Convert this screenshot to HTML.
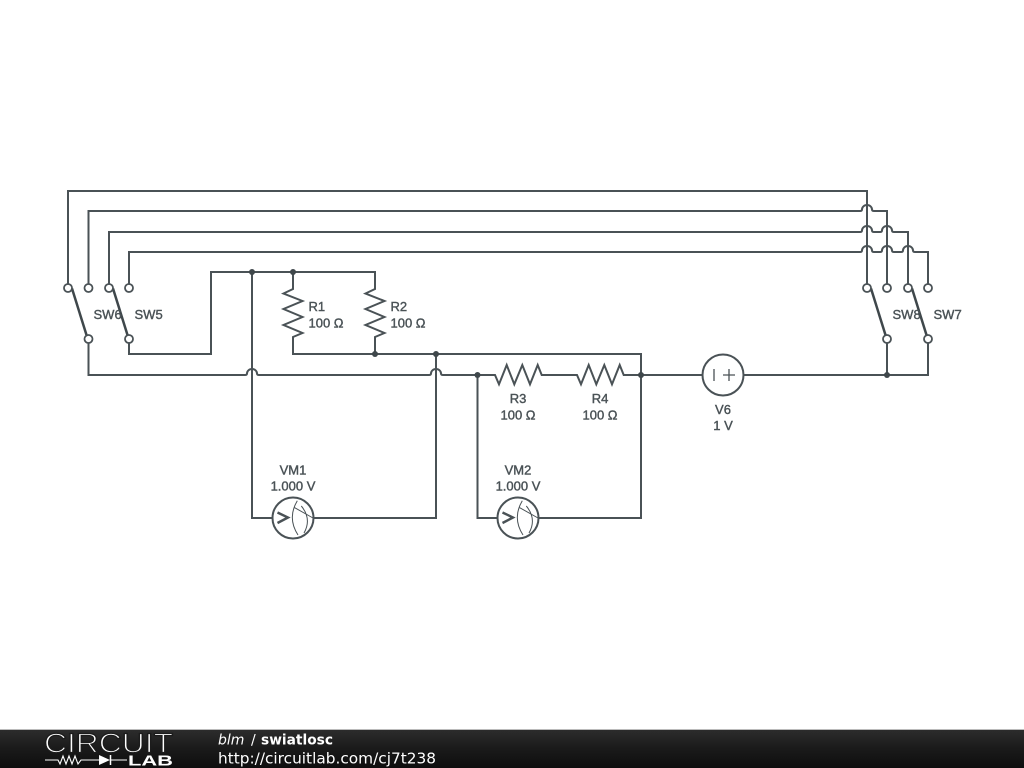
<!DOCTYPE html>
<html>
<head>
<meta charset="utf-8">
<style>
html,body{margin:0;padding:0;background:#fff;}
svg{display:block;}
.l{font-family:"Liberation Sans",sans-serif;font-size:13px;fill:#4a5256;stroke:#4a5256;stroke-width:.4px;text-anchor:middle;}
.s{text-anchor:start;}
</style>
</head>
<body>
<svg width="1024" height="768" viewBox="0 0 1024 768" xmlns="http://www.w3.org/2000/svg">
<rect width="1024" height="768" fill="#fff"/>
<defs>
<linearGradient id="g" x1="0" y1="0" x2="0" y2="1">
<stop offset="0" stop-color="#2c2c2c"/>
<stop offset=".5" stop-color="#1a1a1a"/>
<stop offset="1" stop-color="#0e0e0e"/>
</linearGradient>
</defs>
<g fill="none" stroke="#4a5256" stroke-width="2">
<!-- top bus wires -->
<path d="M68 284V191H867V284"/>
<path d="M88.500 284V211H860Q862 211 862 209.500A5 4.500 0 0 1 872 209.500Q872 211 874 211H887V284"/>
<path d="M109 284V232H860Q862 232 862 230.500A5 4.500 0 0 1 872 230.500Q872 232 874 232H880Q882 232 882 230.500A5 4.500 0 0 1 892 230.500Q892 232 894 232H908V284"/>
<path d="M129 284V252H860Q862 252 862 250.500A5 4.500 0 0 1 872 250.500Q872 252 874 252H880Q882 252 882 250.500A5 4.500 0 0 1 892 250.500Q892 252 894 252H901Q903 252 903 250.500A5 4.500 0 0 1 913 250.500Q913 252 915 252H928V284"/>
<!-- main horizontal -->
<path d="M88.500 343V375H245Q247 375 247 373.500A5 4.500 0 0 1 257 373.500Q257 375 259 375H429Q431 375 431 373.500A5 4.500 0 0 1 441 373.500Q441 375 443 375H495L499 384.300L506.700 365L514.300 384.300L522.300 365L530 384.300L537.700 365L541.700 375H577L581 384.300L588.700 365L596.300 384.300L604.300 365L612 384.300L619.700 365L623.700 375H702"/>
<path d="M744 375H928V343"/>
<path d="M887 343V375"/>
<!-- SW5 to R top -->
<path d="M129 343V354H211V272H375V289L365.500 293.500L384.500 301L365.500 309L384.500 317L365.500 325L384.500 333L375 337V354"/>
<!-- R1 -->
<path d="M293 272V289L283.500 293.500L302.500 301L283.500 309L302.500 317L283.500 325L302.500 333L293 337V354H641V518H539"/>
<!-- VM wires -->
<path d="M252 272V518H272"/>
<path d="M314 518H436V354"/>
<path d="M477.500 375V518H497"/>
<!-- switches -->
<path d="M72 288.500L86.500 335" stroke-width="2.500" stroke="#3f474b"/>
<path d="M113 288.500L127.500 335" stroke-width="2.500" stroke="#3f474b"/>
<path d="M871 288.500L885.500 335" stroke-width="2.500" stroke="#3f474b"/>
<path d="M912 288.500L926.500 335" stroke-width="2.500" stroke="#3f474b"/>
<g fill="#fff" stroke-width="1.800">
<circle cx="68" cy="288" r="4"/><circle cx="88.500" cy="288" r="4"/><circle cx="109" cy="288" r="4"/><circle cx="129" cy="288" r="4"/>
<circle cx="88.500" cy="339" r="4"/><circle cx="129" cy="339" r="4"/>
<circle cx="867" cy="288" r="4"/><circle cx="887" cy="288" r="4"/><circle cx="908" cy="288" r="4"/><circle cx="928" cy="288" r="4"/>
<circle cx="887" cy="339" r="4"/><circle cx="928" cy="339" r="4"/>
</g>
<!-- V6 -->
<circle cx="723" cy="375" r="20.500" stroke-width="2"/>
<path d="M714 369V381M729 369V381M723 375H735" stroke-width="1.300"/>
<!-- VM1 -->
<circle cx="293" cy="518" r="20.500"/>
<path d="M277.500 512.500L288 517.500L277.500 523" stroke-width="2.400"/>
<path d="M297.300 500.700Q287 518 298 535M301.300 506Q312 519 304 533M294 507.300L313 518" stroke-width="1"/>
<!-- VM2 -->
<circle cx="518" cy="518" r="20.500"/>
<path d="M502.500 512.500L513 517.500L502.500 523" stroke-width="2.400"/>
<path d="M522.300 500.700Q512 518 523 535M526.300 506Q537 519 529 533M519 507.300L538 518" stroke-width="1"/>
</g>
<g fill="#3f474b">
<circle cx="252" cy="272" r="3"/><circle cx="293" cy="272" r="3"/>
<circle cx="375" cy="354" r="3"/><circle cx="436" cy="354" r="3"/>
<circle cx="477.500" cy="375" r="3"/><circle cx="641" cy="375" r="3"/>
<circle cx="887" cy="375" r="3"/>
</g>
<!-- labels -->
<text class="l s" x="93.500" y="319">SW6</text>
<text class="l s" x="134.500" y="319">SW5</text>
<text class="l s" x="892.500" y="319">SW8</text>
<text class="l s" x="933.500" y="319">SW7</text>
<text class="l s" x="308.500" y="311">R1</text>
<text class="l s" x="308.500" y="327.500">100 Ω</text>
<text class="l s" x="390.500" y="311">R2</text>
<text class="l s" x="390.500" y="327.500">100 Ω</text>
<text class="l" x="518" y="403">R3</text>
<text class="l" x="518" y="419.500">100 Ω</text>
<text class="l" x="600" y="403">R4</text>
<text class="l" x="600" y="419.500">100 Ω</text>
<text class="l" x="723" y="414">V6</text>
<text class="l" x="723" y="430">1 V</text>
<text class="l" x="293" y="474.500">VM1</text>
<text class="l" x="293" y="490.500">1.000 V</text>
<text class="l" x="518" y="474.500">VM2</text>
<text class="l" x="518" y="490.500">1.000 V</text>
<!-- footer -->
<rect x="0" y="730" width="1024" height="38" fill="url(#g)"/>
<rect x="0" y="729" width="1024" height="1" fill="#bbb"/>
<text x="44" y="752.500" font-family="'Liberation Sans',sans-serif" font-size="28" fill="#fff" stroke="#1c1c1c" stroke-width="1.300" textLength="129" lengthAdjust="spacingAndGlyphs">CIRCUIT</text>
<path d="M45 760H58L60 764L63 756L66 764L69 756L72 764L75 756L78 764L81 760H99M111 760H127" fill="none" stroke="#fff" stroke-width="1.100"/>
<path d="M99 755V765L110 760Z" fill="#fff"/>
<path d="M110.500 755V765" stroke="#fff" stroke-width="1.500"/>
<text x="128" y="765.500" font-family="'Liberation Sans',sans-serif" font-size="14.500" font-weight="bold" fill="#fff" textLength="45" lengthAdjust="spacingAndGlyphs">LAB</text>
<text x="218" y="744.500" font-family="'DejaVu Sans',sans-serif" font-size="14" font-style="italic" fill="#fff">blm</text>
<text x="251" y="744.500" font-family="'DejaVu Sans',sans-serif" font-size="14" fill="#fff">/</text>
<text x="261" y="744.500" font-family="'DejaVu Sans',sans-serif" font-size="14" font-weight="bold" fill="#fff" textLength="72" lengthAdjust="spacingAndGlyphs">swiatlosc</text>
<text x="218" y="763.500" font-family="'DejaVu Sans',sans-serif" font-size="15" fill="#fff" textLength="218" lengthAdjust="spacingAndGlyphs">http://circuitlab.com/cj7t238</text>
</svg>
</body>
</html>
